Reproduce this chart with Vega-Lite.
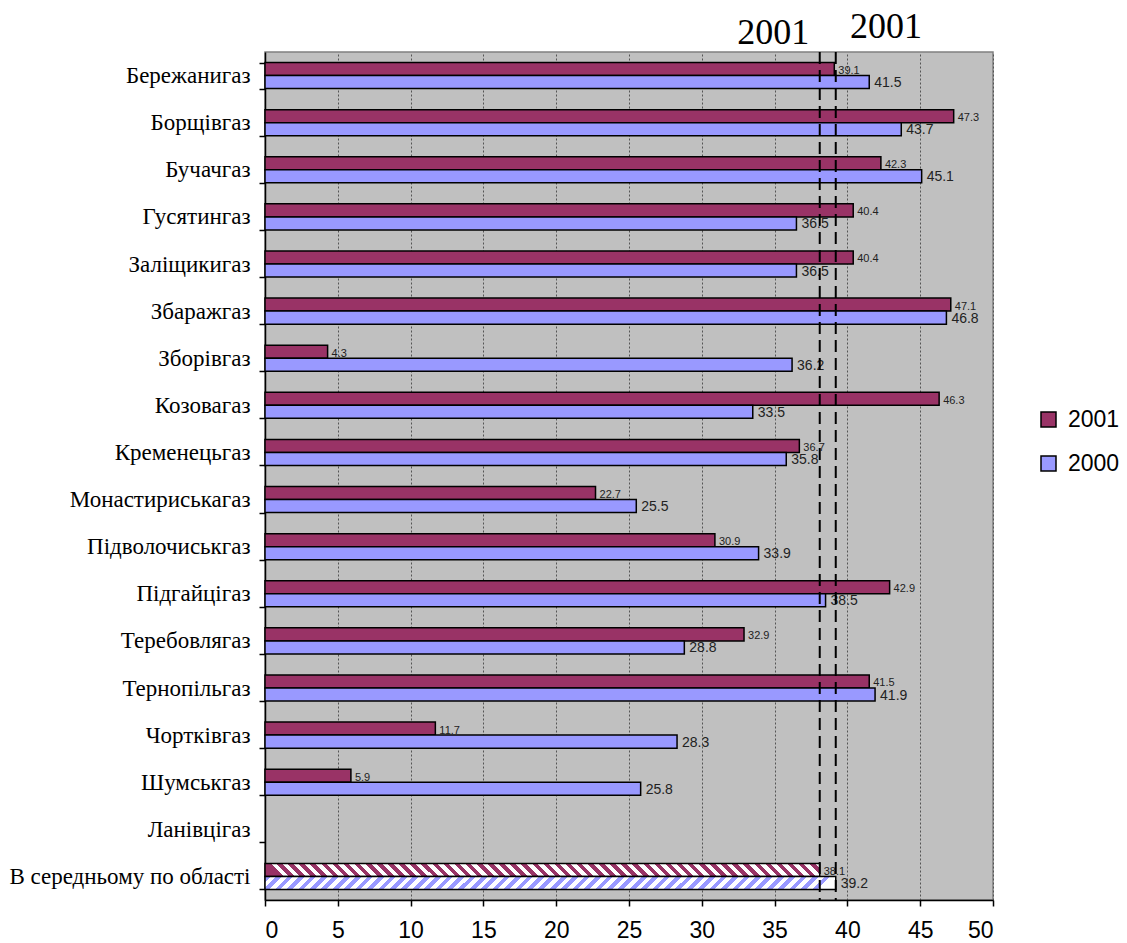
{
  "$schema": "https://vega.github.io/schema/vega-lite/v6.json",
  "autosize": "none",
  "width": 728,
  "height": 848,
  "padding": {"left": 265, "top": 52, "right": 134, "bottom": 43},
  "background": "white",
  "config": {
    "view": {"fill": "#c0c0c0", "stroke": "#808080", "strokeWidth": 1.5},
    "axis": {"domainColor": "black", "domainWidth": 1.5, "tickColor": "black", "tickWidth": 1.5, "labelColor": "black"}
  },
  "data": {"values": [
    {"cat": "Бережанигаз", "year": "2001", "value": 39.1},
    {"cat": "Бережанигаз", "year": "2000", "value": 41.5},
    {"cat": "Борщівгаз", "year": "2001", "value": 47.3},
    {"cat": "Борщівгаз", "year": "2000", "value": 43.7},
    {"cat": "Бучачгаз", "year": "2001", "value": 42.3},
    {"cat": "Бучачгаз", "year": "2000", "value": 45.1},
    {"cat": "Гусятингаз", "year": "2001", "value": 40.4},
    {"cat": "Гусятингаз", "year": "2000", "value": 36.5},
    {"cat": "Заліщикигаз", "year": "2001", "value": 40.4},
    {"cat": "Заліщикигаз", "year": "2000", "value": 36.5},
    {"cat": "Збаражгаз", "year": "2001", "value": 47.1},
    {"cat": "Збаражгаз", "year": "2000", "value": 46.8},
    {"cat": "Зборівгаз", "year": "2001", "value": 4.3},
    {"cat": "Зборівгаз", "year": "2000", "value": 36.2},
    {"cat": "Козовагаз", "year": "2001", "value": 46.3},
    {"cat": "Козовагаз", "year": "2000", "value": 33.5},
    {"cat": "Кременецьгаз", "year": "2001", "value": 36.7},
    {"cat": "Кременецьгаз", "year": "2000", "value": 35.8},
    {"cat": "Монастириськагаз", "year": "2001", "value": 22.7},
    {"cat": "Монастириськагаз", "year": "2000", "value": 25.5},
    {"cat": "Підволочиськгаз", "year": "2001", "value": 30.9},
    {"cat": "Підволочиськгаз", "year": "2000", "value": 33.9},
    {"cat": "Підгайцігаз", "year": "2001", "value": 42.9},
    {"cat": "Підгайцігаз", "year": "2000", "value": 38.5},
    {"cat": "Теребовлягаз", "year": "2001", "value": 32.9},
    {"cat": "Теребовлягаз", "year": "2000", "value": 28.8},
    {"cat": "Тернопільгаз", "year": "2001", "value": 41.5},
    {"cat": "Тернопільгаз", "year": "2000", "value": 41.9},
    {"cat": "Чортківгаз", "year": "2001", "value": 11.7},
    {"cat": "Чортківгаз", "year": "2000", "value": 28.3},
    {"cat": "Шумськгаз", "year": "2001", "value": 5.9},
    {"cat": "Шумськгаз", "year": "2000", "value": 25.8},
    {"cat": "В середньому по області", "year": "2001", "value": 38.1},
    {"cat": "В середньому по області", "year": "2000", "value": 39.2}
  ]},
  "encoding": {
    "x": {
      "field": "value", "type": "quantitative",
      "scale": {"domain": [0, 50], "nice": false, "zero": true},
      "axis": {
        "title": null, "values": [0, 5, 10, 15, 20, 25, 30, 35, 40, 45, 50],
        "grid": true, "gridColor": "#555555", "gridDash": [2, 2], "gridWidth": 1,
        "labelFont": "Liberation Sans", "labelFontSize": 23, "labelPadding": 13, "tickSize": 6
      }
    }
  },
  "layer": [
    {
      "transform": [{"filter": "datum.cat != 'В середньому по області'"}],
      "mark": {"type": "bar", "stroke": "black", "strokeWidth": 1.5},
      "encoding": {
        "y": {
          "field": "cat", "type": "nominal",
          "scale": {"domain": ["Бережанигаз", "Борщівгаз", "Бучачгаз", "Гусятингаз", "Заліщикигаз", "Збаражгаз", "Зборівгаз", "Козовагаз", "Кременецьгаз", "Монастириськагаз", "Підволочиськгаз", "Підгайцігаз", "Теребовлягаз", "Тернопільгаз", "Чортківгаз", "Шумськгаз", "Ланівцігаз", "В середньому по області"], "paddingInner": 0.447, "paddingOuter": 0.2235},
          "axis": {"title": null, "tickBand": "extent", "tickSize": 6, "labelPadding": 9, "labelFont": "Liberation Serif", "labelFontSize": 23, "labelLimit": 400, "grid": false}
        },
        "yOffset": {"field": "year", "type": "nominal", "scale": {"domain": ["2001", "2000"], "paddingInner": 0, "paddingOuter": 0}},
        "fill": {
          "field": "year", "type": "nominal",
          "scale": {"domain": ["2001", "2000"], "range": ["#993366", "#9999ff"]},
          "legend": {
            "title": null, "orient": "none", "legendX": 772, "legendY": 356,
            "symbolType": "square", "symbolSize": 225, "symbolStrokeColor": "black", "symbolStrokeWidth": 1.5,
            "labelFont": "Liberation Sans", "labelFontSize": 23, "labelColor": "black", "rowPadding": 20, "labelOffset": 8
          }
        }
      }
    },
    {
      "transform": [{"filter": "datum.cat == 'В середньому по області' && datum.year == '2001'"}],
      "mark": {"type": "bar", "stroke": "black", "strokeWidth": 1.5,
        "fill": {"gradient": "linear", "x1": 0, "y1": 0, "x2": 1, "y2": -0.0235, "stops": [
{"offset":0.01,"color":"#936"},{"offset":0.01,"color":"#fff"},{"offset":0.02,"color":"#fff"},{"offset":0.02,"color":"#936"},
{"offset":0.03,"color":"#936"},{"offset":0.03,"color":"#fff"},{"offset":0.04,"color":"#fff"},{"offset":0.04,"color":"#936"},
{"offset":0.05,"color":"#936"},{"offset":0.05,"color":"#fff"},{"offset":0.06,"color":"#fff"},{"offset":0.06,"color":"#936"},
{"offset":0.07,"color":"#936"},{"offset":0.07,"color":"#fff"},{"offset":0.08,"color":"#fff"},{"offset":0.08,"color":"#936"},
{"offset":0.09,"color":"#936"},{"offset":0.09,"color":"#fff"},{"offset":0.10,"color":"#fff"},{"offset":0.10,"color":"#936"},
{"offset":0.11,"color":"#936"},{"offset":0.11,"color":"#fff"},{"offset":0.12,"color":"#fff"},{"offset":0.12,"color":"#936"},
{"offset":0.13,"color":"#936"},{"offset":0.13,"color":"#fff"},{"offset":0.14,"color":"#fff"},{"offset":0.14,"color":"#936"},
{"offset":0.15,"color":"#936"},{"offset":0.15,"color":"#fff"},{"offset":0.16,"color":"#fff"},{"offset":0.16,"color":"#936"},
{"offset":0.17,"color":"#936"},{"offset":0.17,"color":"#fff"},{"offset":0.18,"color":"#fff"},{"offset":0.18,"color":"#936"},
{"offset":0.19,"color":"#936"},{"offset":0.19,"color":"#fff"},{"offset":0.20,"color":"#fff"},{"offset":0.20,"color":"#936"},
{"offset":0.21,"color":"#936"},{"offset":0.21,"color":"#fff"},{"offset":0.22,"color":"#fff"},{"offset":0.22,"color":"#936"},
{"offset":0.23,"color":"#936"},{"offset":0.23,"color":"#fff"},{"offset":0.24,"color":"#fff"},{"offset":0.24,"color":"#936"},
{"offset":0.25,"color":"#936"},{"offset":0.25,"color":"#fff"},{"offset":0.26,"color":"#fff"},{"offset":0.26,"color":"#936"},
{"offset":0.27,"color":"#936"},{"offset":0.27,"color":"#fff"},{"offset":0.28,"color":"#fff"},{"offset":0.28,"color":"#936"},
{"offset":0.29,"color":"#936"},{"offset":0.29,"color":"#fff"},{"offset":0.30,"color":"#fff"},{"offset":0.30,"color":"#936"},
{"offset":0.31,"color":"#936"},{"offset":0.31,"color":"#fff"},{"offset":0.32,"color":"#fff"},{"offset":0.32,"color":"#936"},
{"offset":0.33,"color":"#936"},{"offset":0.33,"color":"#fff"},{"offset":0.34,"color":"#fff"},{"offset":0.34,"color":"#936"},
{"offset":0.35,"color":"#936"},{"offset":0.35,"color":"#fff"},{"offset":0.36,"color":"#fff"},{"offset":0.36,"color":"#936"},
{"offset":0.37,"color":"#936"},{"offset":0.37,"color":"#fff"},{"offset":0.38,"color":"#fff"},{"offset":0.38,"color":"#936"},
{"offset":0.39,"color":"#936"},{"offset":0.39,"color":"#fff"},{"offset":0.40,"color":"#fff"},{"offset":0.40,"color":"#936"},
{"offset":0.41,"color":"#936"},{"offset":0.41,"color":"#fff"},{"offset":0.42,"color":"#fff"},{"offset":0.42,"color":"#936"},
{"offset":0.43,"color":"#936"},{"offset":0.43,"color":"#fff"},{"offset":0.44,"color":"#fff"},{"offset":0.44,"color":"#936"},
{"offset":0.45,"color":"#936"},{"offset":0.45,"color":"#fff"},{"offset":0.46,"color":"#fff"},{"offset":0.46,"color":"#936"},
{"offset":0.47,"color":"#936"},{"offset":0.47,"color":"#fff"},{"offset":0.48,"color":"#fff"},{"offset":0.48,"color":"#936"},
{"offset":0.49,"color":"#936"},{"offset":0.49,"color":"#fff"},{"offset":0.50,"color":"#fff"},{"offset":0.50,"color":"#936"},
{"offset":0.51,"color":"#936"},{"offset":0.51,"color":"#fff"},{"offset":0.52,"color":"#fff"},{"offset":0.52,"color":"#936"},
{"offset":0.53,"color":"#936"},{"offset":0.53,"color":"#fff"},{"offset":0.54,"color":"#fff"},{"offset":0.54,"color":"#936"},
{"offset":0.55,"color":"#936"},{"offset":0.55,"color":"#fff"},{"offset":0.56,"color":"#fff"},{"offset":0.56,"color":"#936"},
{"offset":0.57,"color":"#936"},{"offset":0.57,"color":"#fff"},{"offset":0.58,"color":"#fff"},{"offset":0.58,"color":"#936"},
{"offset":0.59,"color":"#936"},{"offset":0.59,"color":"#fff"},{"offset":0.60,"color":"#fff"},{"offset":0.60,"color":"#936"},
{"offset":0.61,"color":"#936"},{"offset":0.61,"color":"#fff"},{"offset":0.62,"color":"#fff"},{"offset":0.62,"color":"#936"},
{"offset":0.63,"color":"#936"},{"offset":0.63,"color":"#fff"},{"offset":0.64,"color":"#fff"},{"offset":0.64,"color":"#936"},
{"offset":0.65,"color":"#936"},{"offset":0.65,"color":"#fff"},{"offset":0.66,"color":"#fff"},{"offset":0.66,"color":"#936"},
{"offset":0.67,"color":"#936"},{"offset":0.67,"color":"#fff"},{"offset":0.68,"color":"#fff"},{"offset":0.68,"color":"#936"},
{"offset":0.69,"color":"#936"},{"offset":0.69,"color":"#fff"},{"offset":0.70,"color":"#fff"},{"offset":0.70,"color":"#936"},
{"offset":0.71,"color":"#936"},{"offset":0.71,"color":"#fff"},{"offset":0.72,"color":"#fff"},{"offset":0.72,"color":"#936"},
{"offset":0.73,"color":"#936"},{"offset":0.73,"color":"#fff"},{"offset":0.74,"color":"#fff"},{"offset":0.74,"color":"#936"},
{"offset":0.75,"color":"#936"},{"offset":0.75,"color":"#fff"},{"offset":0.76,"color":"#fff"},{"offset":0.76,"color":"#936"},
{"offset":0.77,"color":"#936"},{"offset":0.77,"color":"#fff"},{"offset":0.78,"color":"#fff"},{"offset":0.78,"color":"#936"},
{"offset":0.79,"color":"#936"},{"offset":0.79,"color":"#fff"},{"offset":0.80,"color":"#fff"},{"offset":0.80,"color":"#936"},
{"offset":0.81,"color":"#936"},{"offset":0.81,"color":"#fff"},{"offset":0.82,"color":"#fff"},{"offset":0.82,"color":"#936"},
{"offset":0.83,"color":"#936"},{"offset":0.83,"color":"#fff"},{"offset":0.84,"color":"#fff"},{"offset":0.84,"color":"#936"},
{"offset":0.85,"color":"#936"},{"offset":0.85,"color":"#fff"},{"offset":0.86,"color":"#fff"},{"offset":0.86,"color":"#936"},
{"offset":0.87,"color":"#936"},{"offset":0.87,"color":"#fff"},{"offset":0.88,"color":"#fff"},{"offset":0.88,"color":"#936"},
{"offset":0.89,"color":"#936"},{"offset":0.89,"color":"#fff"},{"offset":0.90,"color":"#fff"},{"offset":0.90,"color":"#936"},
{"offset":0.91,"color":"#936"},{"offset":0.91,"color":"#fff"},{"offset":0.92,"color":"#fff"},{"offset":0.92,"color":"#936"},
{"offset":0.93,"color":"#936"},{"offset":0.93,"color":"#fff"},{"offset":0.94,"color":"#fff"},{"offset":0.94,"color":"#936"},
{"offset":0.95,"color":"#936"},{"offset":0.95,"color":"#fff"},{"offset":0.96,"color":"#fff"},{"offset":0.96,"color":"#936"},
{"offset":0.97,"color":"#936"},{"offset":0.97,"color":"#fff"},{"offset":0.98,"color":"#fff"},{"offset":0.98,"color":"#936"},
{"offset":0.99,"color":"#936"},{"offset":0.99,"color":"#fff"}
        ]}},
      "encoding": {
        "y": {"field": "cat", "type": "nominal"},
        "yOffset": {"field": "year", "type": "nominal"}
      }
    },
    {
      "transform": [{"filter": "datum.cat == 'В середньому по області' && datum.year == '2000'"}],
      "mark": {"type": "bar", "stroke": "black", "strokeWidth": 1.5,
        "fill": {"gradient": "linear", "x1": 0, "y1": 0, "x2": 1, "y2": 0.0229, "stops": [
{"offset":0.01,"color":"#99f"},{"offset":0.01,"color":"#fff"},{"offset":0.02,"color":"#fff"},{"offset":0.02,"color":"#99f"},
{"offset":0.03,"color":"#99f"},{"offset":0.03,"color":"#fff"},{"offset":0.04,"color":"#fff"},{"offset":0.04,"color":"#99f"},
{"offset":0.05,"color":"#99f"},{"offset":0.05,"color":"#fff"},{"offset":0.06,"color":"#fff"},{"offset":0.06,"color":"#99f"},
{"offset":0.07,"color":"#99f"},{"offset":0.07,"color":"#fff"},{"offset":0.08,"color":"#fff"},{"offset":0.08,"color":"#99f"},
{"offset":0.09,"color":"#99f"},{"offset":0.09,"color":"#fff"},{"offset":0.10,"color":"#fff"},{"offset":0.10,"color":"#99f"},
{"offset":0.11,"color":"#99f"},{"offset":0.11,"color":"#fff"},{"offset":0.12,"color":"#fff"},{"offset":0.12,"color":"#99f"},
{"offset":0.13,"color":"#99f"},{"offset":0.13,"color":"#fff"},{"offset":0.14,"color":"#fff"},{"offset":0.14,"color":"#99f"},
{"offset":0.15,"color":"#99f"},{"offset":0.15,"color":"#fff"},{"offset":0.16,"color":"#fff"},{"offset":0.16,"color":"#99f"},
{"offset":0.17,"color":"#99f"},{"offset":0.17,"color":"#fff"},{"offset":0.18,"color":"#fff"},{"offset":0.18,"color":"#99f"},
{"offset":0.19,"color":"#99f"},{"offset":0.19,"color":"#fff"},{"offset":0.20,"color":"#fff"},{"offset":0.20,"color":"#99f"},
{"offset":0.21,"color":"#99f"},{"offset":0.21,"color":"#fff"},{"offset":0.22,"color":"#fff"},{"offset":0.22,"color":"#99f"},
{"offset":0.23,"color":"#99f"},{"offset":0.23,"color":"#fff"},{"offset":0.24,"color":"#fff"},{"offset":0.24,"color":"#99f"},
{"offset":0.25,"color":"#99f"},{"offset":0.25,"color":"#fff"},{"offset":0.26,"color":"#fff"},{"offset":0.26,"color":"#99f"},
{"offset":0.27,"color":"#99f"},{"offset":0.27,"color":"#fff"},{"offset":0.28,"color":"#fff"},{"offset":0.28,"color":"#99f"},
{"offset":0.29,"color":"#99f"},{"offset":0.29,"color":"#fff"},{"offset":0.30,"color":"#fff"},{"offset":0.30,"color":"#99f"},
{"offset":0.31,"color":"#99f"},{"offset":0.31,"color":"#fff"},{"offset":0.32,"color":"#fff"},{"offset":0.32,"color":"#99f"},
{"offset":0.33,"color":"#99f"},{"offset":0.33,"color":"#fff"},{"offset":0.34,"color":"#fff"},{"offset":0.34,"color":"#99f"},
{"offset":0.35,"color":"#99f"},{"offset":0.35,"color":"#fff"},{"offset":0.36,"color":"#fff"},{"offset":0.36,"color":"#99f"},
{"offset":0.37,"color":"#99f"},{"offset":0.37,"color":"#fff"},{"offset":0.38,"color":"#fff"},{"offset":0.38,"color":"#99f"},
{"offset":0.39,"color":"#99f"},{"offset":0.39,"color":"#fff"},{"offset":0.40,"color":"#fff"},{"offset":0.40,"color":"#99f"},
{"offset":0.41,"color":"#99f"},{"offset":0.41,"color":"#fff"},{"offset":0.42,"color":"#fff"},{"offset":0.42,"color":"#99f"},
{"offset":0.43,"color":"#99f"},{"offset":0.43,"color":"#fff"},{"offset":0.44,"color":"#fff"},{"offset":0.44,"color":"#99f"},
{"offset":0.45,"color":"#99f"},{"offset":0.45,"color":"#fff"},{"offset":0.46,"color":"#fff"},{"offset":0.46,"color":"#99f"},
{"offset":0.47,"color":"#99f"},{"offset":0.47,"color":"#fff"},{"offset":0.48,"color":"#fff"},{"offset":0.48,"color":"#99f"},
{"offset":0.49,"color":"#99f"},{"offset":0.49,"color":"#fff"},{"offset":0.50,"color":"#fff"},{"offset":0.50,"color":"#99f"},
{"offset":0.51,"color":"#99f"},{"offset":0.51,"color":"#fff"},{"offset":0.52,"color":"#fff"},{"offset":0.52,"color":"#99f"},
{"offset":0.53,"color":"#99f"},{"offset":0.53,"color":"#fff"},{"offset":0.54,"color":"#fff"},{"offset":0.54,"color":"#99f"},
{"offset":0.55,"color":"#99f"},{"offset":0.55,"color":"#fff"},{"offset":0.56,"color":"#fff"},{"offset":0.56,"color":"#99f"},
{"offset":0.57,"color":"#99f"},{"offset":0.57,"color":"#fff"},{"offset":0.58,"color":"#fff"},{"offset":0.58,"color":"#99f"},
{"offset":0.59,"color":"#99f"},{"offset":0.59,"color":"#fff"},{"offset":0.60,"color":"#fff"},{"offset":0.60,"color":"#99f"},
{"offset":0.61,"color":"#99f"},{"offset":0.61,"color":"#fff"},{"offset":0.62,"color":"#fff"},{"offset":0.62,"color":"#99f"},
{"offset":0.63,"color":"#99f"},{"offset":0.63,"color":"#fff"},{"offset":0.64,"color":"#fff"},{"offset":0.64,"color":"#99f"},
{"offset":0.65,"color":"#99f"},{"offset":0.65,"color":"#fff"},{"offset":0.66,"color":"#fff"},{"offset":0.66,"color":"#99f"},
{"offset":0.67,"color":"#99f"},{"offset":0.67,"color":"#fff"},{"offset":0.68,"color":"#fff"},{"offset":0.68,"color":"#99f"},
{"offset":0.69,"color":"#99f"},{"offset":0.69,"color":"#fff"},{"offset":0.70,"color":"#fff"},{"offset":0.70,"color":"#99f"},
{"offset":0.71,"color":"#99f"},{"offset":0.71,"color":"#fff"},{"offset":0.72,"color":"#fff"},{"offset":0.72,"color":"#99f"},
{"offset":0.73,"color":"#99f"},{"offset":0.73,"color":"#fff"},{"offset":0.74,"color":"#fff"},{"offset":0.74,"color":"#99f"},
{"offset":0.75,"color":"#99f"},{"offset":0.75,"color":"#fff"},{"offset":0.76,"color":"#fff"},{"offset":0.76,"color":"#99f"},
{"offset":0.77,"color":"#99f"},{"offset":0.77,"color":"#fff"},{"offset":0.78,"color":"#fff"},{"offset":0.78,"color":"#99f"},
{"offset":0.79,"color":"#99f"},{"offset":0.79,"color":"#fff"},{"offset":0.80,"color":"#fff"},{"offset":0.80,"color":"#99f"},
{"offset":0.81,"color":"#99f"},{"offset":0.81,"color":"#fff"},{"offset":0.82,"color":"#fff"},{"offset":0.82,"color":"#99f"},
{"offset":0.83,"color":"#99f"},{"offset":0.83,"color":"#fff"},{"offset":0.84,"color":"#fff"},{"offset":0.84,"color":"#99f"},
{"offset":0.85,"color":"#99f"},{"offset":0.85,"color":"#fff"},{"offset":0.86,"color":"#fff"},{"offset":0.86,"color":"#99f"},
{"offset":0.87,"color":"#99f"},{"offset":0.87,"color":"#fff"},{"offset":0.88,"color":"#fff"},{"offset":0.88,"color":"#99f"},
{"offset":0.89,"color":"#99f"},{"offset":0.89,"color":"#fff"},{"offset":0.90,"color":"#fff"},{"offset":0.90,"color":"#99f"},
{"offset":0.91,"color":"#99f"},{"offset":0.91,"color":"#fff"},{"offset":0.92,"color":"#fff"},{"offset":0.92,"color":"#99f"},
{"offset":0.93,"color":"#99f"},{"offset":0.93,"color":"#fff"},{"offset":0.94,"color":"#fff"},{"offset":0.94,"color":"#99f"},
{"offset":0.95,"color":"#99f"},{"offset":0.95,"color":"#fff"},{"offset":0.96,"color":"#fff"},{"offset":0.96,"color":"#99f"},
{"offset":0.97,"color":"#99f"},{"offset":0.97,"color":"#fff"},{"offset":0.98,"color":"#fff"},{"offset":0.98,"color":"#99f"},
{"offset":0.99,"color":"#99f"},{"offset":0.99,"color":"#fff"}
        ]}},
      "encoding": {
        "y": {"field": "cat", "type": "nominal"},
        "yOffset": {"field": "year", "type": "nominal"}
      }
    },
    {
      "transform": [{"filter": "datum.year == '2001'"}],
      "mark": {"type": "text", "align": "left", "baseline": "middle", "dx": 4, "dy": 2, "font": "Liberation Sans", "fontSize": 11, "color": "#222222"},
      "encoding": {
        "y": {"field": "cat", "type": "nominal"},
        "yOffset": {"field": "year", "type": "nominal"},
        "text": {"field": "value", "type": "quantitative", "format": ".1f"}
      }
    },
    {
      "transform": [{"filter": "datum.year == '2000'"}],
      "mark": {"type": "text", "align": "left", "baseline": "middle", "dx": 5, "dy": 1, "font": "Liberation Sans", "fontSize": 14, "color": "#222222"},
      "encoding": {
        "y": {"field": "cat", "type": "nominal"},
        "yOffset": {"field": "year", "type": "nominal"},
        "text": {"field": "value", "type": "quantitative", "format": ".1f"}
      }
    },
    {
      "transform": [{"filter": "datum.cat == 'В середньому по області'"}],
      "mark": {"type": "rule", "color": "black", "strokeWidth": 2, "strokeDash": [12, 6]},
      "encoding": {}
    },
    {
      "data": {"values": [{"label": "2001", "pos": 34.9}]},
      "mark": {"type": "text", "font": "Liberation Serif", "fontSize": 36, "align": "center", "baseline": "alphabetic", "dy": -32, "color": "black"},
      "encoding": {
        "x": {"field": "pos", "type": "quantitative"},
        "y": {"datum": "Бережанигаз", "type": "nominal"},
        "text": {"field": "label"}
      }
    },
    {
      "data": {"values": [{"label": "2001", "pos": 42.65}]},
      "mark": {"type": "text", "font": "Liberation Serif", "fontSize": 36, "align": "center", "baseline": "alphabetic", "dy": -38, "color": "black"},
      "encoding": {
        "x": {"field": "pos", "type": "quantitative"},
        "y": {"datum": "Бережанигаз", "type": "nominal"},
        "text": {"field": "label"}
      }
    }
  ]
}
